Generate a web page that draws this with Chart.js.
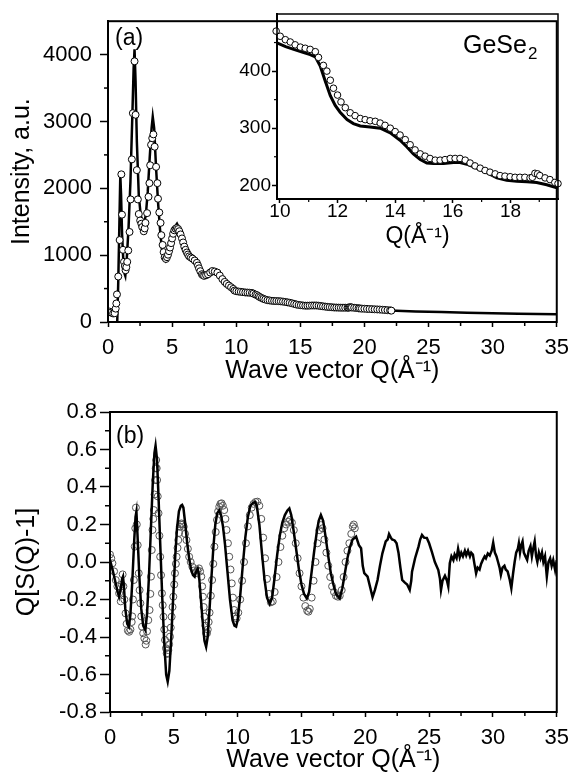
<!DOCTYPE html>
<html><head><meta charset="utf-8">
<script src="https://cdn.jsdelivr.net/npm/chart.js@4"></script>
<style>
html,body{margin:0;padding:0;background:#fff;}
body{width:577px;height:773px;position:relative;overflow:hidden;}
canvas{position:absolute;}
.lbl{position:absolute;font-family:"Liberation Sans",Arial,sans-serif;color:#000;white-space:nowrap;line-height:1;}
.lbl sub{font-size:17px;vertical-align:-6px;line-height:1;margin-left:1px;}
</style></head><body>
<canvas id="cTop" width="577" height="390" style="left:0px;top:0px"></canvas>
<canvas id="cIn" width="377" height="260" style="left:200px;top:0px"></canvas>
<canvas id="cBot" width="577" height="383" style="left:0px;top:390px"></canvas>
<div class="lbl" style="left:115px;top:26px;font-size:23px">(a)</div>
<div class="lbl" style="left:463px;top:32px;font-size:25px">GeSe<sub>2</sub></div>
<div class="lbl" style="left:116px;top:424px;font-size:23px">(b)</div>
<script>
// ---------- panel (a): measured intensity (circles) ----------
const topExpQ = [0.13,0.25,0.4,0.52,0.6,0.65,0.7,0.8,0.91,1.04,1.09,1.17,1.25,1.32,1.37,1.43,1.5,1.58,1.68,1.76,1.86,1.94,2.07,2.15,2.25,2.33,2.4,2.51,2.6,2.67,2.79,2.86,2.92,3.05,3.16,3.23,3.29,3.36,3.45,3.54,3.64,3.75,3.85,3.9,4.0,4.1,4.16,4.26,4.34,4.42,4.52,4.6,4.68,4.76,4.84,4.92,5.0,5.08,5.17,5.27,5.38,5.47,5.56,5.66,5.77,5.86,5.95,6.05,6.15,6.24,6.33,6.46,6.59,6.76,6.93,7.02,7.1,7.2,7.32,7.41,7.5,7.65,7.8,7.97,8.14,8.33,8.53,8.72,8.92,9.1,9.26,9.43,9.6,9.77,9.87,10.01,10.19,10.36,10.53,10.71,10.88,11.05,11.23,11.34,11.51,11.63,11.75,11.86,12.0,12.12,12.27,12.44,12.61,12.79,12.96,13.13,13.31,13.48,13.65,13.83,14.0,14.17,14.35,14.52,14.69,14.87,15.04,15.21,15.39,15.56,15.73,15.91,16.08,16.25,16.43,16.6,16.77,16.95,17.12,17.29,17.47,17.64,17.81,17.99,18.16,18.33,18.5,18.68,18.76,18.85,18.94,19.02,19.2,19.37,19.54,19.65,19.8,20.0,20.2,20.4,20.6,20.8,21.0,21.2,21.4,21.6,21.8,22.0,22.1];
const topExpI = [155,140,128,131,200,277,413,680,1226,2209,1606,1080,900,836,774,820,900,1070,1347,1834,2433,3124,3900,3100,2272,1834,1615,1518,1470,1420,1357,1400,1483,1629,1873,2077,2345,2651,2750,2807,2622,2321,2077,1844,1639,1483,1299,1153,1045,968,943,970,1007,1060,1114,1180,1250,1320,1372,1395,1406,1390,1358,1310,1250,1190,1128,1080,1040,1010,982,965,948,920,885,845,803,760,715,698,690,700,714,740,763,755,739,695,642,600,570,545,520,495,470,461,455,451,446,442,440,438,434,424,410,400,384,370,358,346,336,327,322,317,315,313,312,309,305,300,294,288,280,271,262,255,251,247,244,244,245,247,247,247,244,239,234,230,226,223,220,217,216,215,214,214,214,213,214,221,220,217,213,210,205,203,200,198,196,194,192,190,188,186,183,180,177,174,170];
// ---------- panel (a): calculated intensity (line) ----------
const topCalcQ = [0.72,0.8,0.9,0.96,1.02,1.1,1.2,1.3,1.35,1.45,1.6,1.75,1.9,2.0,2.07,2.15,2.25,2.4,2.55,2.7,2.8,2.95,3.1,3.25,3.4,3.49,3.6,3.75,3.9,4.05,4.2,4.35,4.5,4.65,4.8,5.0,5.2,5.38,5.55,5.75,6.0,6.3,6.6,6.9,7.1,7.35,7.6,7.85,8.15,8.45,8.75,9.0,9.4,9.87,10.2,10.48,10.8,11.05,11.23,11.4,11.57,11.75,11.92,12.09,12.33,12.55,12.79,13.13,13.48,13.83,14.17,14.41,14.63,14.87,15.1,15.33,15.68,16.02,16.25,16.49,16.83,17.18,17.53,17.87,18.22,18.57,18.91,19.26,19.64,20.5,21.5,22.5,24,26,28,30,32,35];
const topCalcI = [0,600,1600,2200,1900,1300,900,720,690,900,1400,2100,3100,3800,4080,3600,2700,1900,1600,1480,1460,1600,1950,2450,2900,3070,2900,2300,1800,1400,1100,960,910,950,1080,1270,1420,1470,1400,1260,1110,990,950,880,800,700,670,710,765,745,680,620,540,450,443,438,433,429,425,409,383,357,340,328,315,308,304,302,300,292,279,267,255,245,239,238,238,240,240,237,230,222,213,209,207,206,205,201,195,188,178,168,158,148,140,132,125,117];
// ---------- panel (b): Q[S(Q)-1] experiment (circles) ----------
const botExpQ = [0.0,0.1,0.19,0.32,0.45,0.58,0.71,0.84,0.92,0.99,1.05,1.12,1.22,1.3,1.4,1.5,1.6,1.7,1.74,1.8,1.87,1.94,1.98,2.03,2.1,2.17,2.25,2.32,2.38,2.45,2.51,2.6,2.69,2.79,2.85,2.9,3.0,3.1,3.16,3.21,3.27,3.33,3.39,3.44,3.49,3.54,3.58,3.62,3.66,3.69,3.74,3.8,3.87,3.93,4.0,4.07,4.13,4.19,4.25,4.31,4.38,4.44,4.5,4.57,4.63,4.7,4.76,4.83,4.9,4.96,5.03,5.09,5.16,5.22,5.29,5.35,5.41,5.47,5.54,5.6,5.7,5.78,5.88,5.99,6.1,6.2,6.32,6.45,6.58,6.71,6.84,6.97,7.06,7.15,7.22,7.28,7.34,7.4,7.47,7.53,7.6,7.66,7.73,7.8,7.9,8.0,8.09,8.18,8.28,8.38,8.47,8.56,8.65,8.74,8.84,8.95,9.04,9.13,9.24,9.34,9.44,9.54,9.63,9.72,9.82,9.92,10.05,10.2,10.35,10.5,10.65,10.8,10.95,11.1,11.25,11.4,11.55,11.7,11.85,12.0,12.15,12.3,12.45,12.6,12.75,12.9,13.05,13.2,13.35,13.5,13.65,13.8,13.95,14.1,14.25,14.4,14.55,14.7,14.85,15.0,15.15,15.3,15.45,15.55,15.65,15.8,15.95,16.1,16.25,16.4,16.52,16.65,16.8,16.95,17.1,17.25,17.4,17.55,17.7,17.85,18.0,18.15,18.3,18.45,18.6,18.75,18.9,19.02,19.1,19.18];
const botExpV = [0.04,0.02,-0.007,-0.05,-0.096,-0.13,-0.167,-0.21,-0.12,-0.066,-0.13,-0.2,-0.274,-0.33,-0.365,-0.372,-0.36,-0.32,-0.29,-0.2,-0.096,0.082,0.18,0.29,0.2,0.09,-0.06,-0.15,-0.22,-0.29,-0.345,-0.38,-0.407,-0.44,-0.42,-0.37,-0.31,-0.256,-0.17,-0.078,0.064,0.171,0.23,0.277,0.36,0.437,0.5,0.544,0.5,0.437,0.35,0.26,0.14,0.028,-0.07,-0.167,-0.23,-0.292,-0.36,-0.416,-0.46,-0.487,-0.49,-0.47,-0.44,-0.398,-0.35,-0.292,-0.24,-0.185,-0.12,-0.06,-0.01,0.028,0.075,0.117,0.155,0.188,0.2,0.206,0.2,0.188,0.15,0.117,0.07,0.028,0.0,-0.025,-0.045,-0.06,-0.045,-0.034,-0.05,-0.078,-0.13,-0.185,-0.24,-0.292,-0.34,-0.38,-0.38,-0.36,-0.32,-0.27,-0.18,-0.096,-0.01,0.082,0.16,0.224,0.27,0.295,0.31,0.313,0.3,0.277,0.23,0.171,0.1,0.028,-0.04,-0.114,-0.19,-0.256,-0.29,-0.3,-0.27,-0.2,-0.1,0.0,0.1,0.19,0.25,0.29,0.31,0.32,0.322,0.3,0.23,0.13,0.02,-0.09,-0.17,-0.215,-0.21,-0.16,-0.08,0.0,0.08,0.14,0.18,0.2,0.215,0.224,0.21,0.17,0.1,0.02,-0.06,-0.13,-0.19,-0.235,-0.26,-0.265,-0.25,-0.19,-0.1,0.0,0.1,0.17,0.197,0.18,0.12,0.05,-0.02,-0.08,-0.13,-0.16,-0.18,-0.185,-0.18,-0.15,-0.08,0.0,0.06,0.1,0.15,0.19,0.2,0.18];
// ---------- panel (b): model (line) ----------
const botCalcQ = [0.0,0.2,0.4,0.6,0.71,0.85,0.95,1.02,1.1,1.2,1.35,1.48,1.6,1.75,1.9,2.0,2.07,2.15,2.3,2.45,2.6,2.77,2.9,3.05,3.2,3.35,3.48,3.57,3.68,3.8,3.95,4.1,4.25,4.4,4.52,4.65,4.8,4.95,5.1,5.25,5.4,5.55,5.65,5.75,5.9,6.05,6.2,6.35,6.5,6.63,6.75,6.87,6.97,7.1,7.25,7.4,7.53,7.65,7.8,7.95,8.1,8.25,8.4,8.55,8.7,8.85,9.0,9.2,9.4,9.6,9.75,9.88,10.0,10.2,10.4,10.6,10.8,11.0,11.2,11.37,11.5,11.7,11.9,12.1,12.3,12.51,12.7,12.9,13.1,13.3,13.5,13.7,13.9,14.05,14.2,14.4,14.6,14.8,15.0,15.2,15.42,15.6,15.8,16.0,16.2,16.35,16.52,16.7,16.9,17.1,17.3,17.5,17.7,17.99,18.2,18.4,18.6,18.8,19.0,19.28,19.5,19.67,19.8,19.92,20.18,20.4,20.57,20.75,20.96,21.15,21.34,21.6,21.75,21.86,22.0,22.1,22.3,22.45,22.6,22.75,22.89,23.1,23.28,23.48,23.6,23.66,23.9,24.17,24.3,24.44,24.6,24.82,25.0,25.21,25.45,25.72,25.85,25.93,26.05,26.24,26.4,26.5,26.62,26.75,26.9,27.0,27.15,27.27,27.4,27.52,27.65,27.8,27.91,28.05,28.2,28.3,28.43,28.55,28.68,28.8,28.95,29.07,29.2,29.35,29.45,29.6,29.75,29.9,30.02,30.15,30.28,30.4,30.52,30.62,30.75,30.9,31.0,31.15,31.3,31.44,31.58,31.7,31.82,31.95,32.03,32.12,32.22,32.32,32.42,32.55,32.68,32.8,32.94,33.05,33.15,33.27,33.38,33.48,33.6,33.72,33.84,33.95,34.08,34.22,34.35,34.48,34.6,34.72,34.87,35.0];
const botCalcV = [0.01,-0.04,-0.1,-0.16,-0.185,-0.14,-0.09,-0.078,-0.14,-0.25,-0.33,-0.345,-0.28,-0.1,0.12,0.24,0.268,0.15,-0.08,-0.25,-0.34,-0.363,-0.28,-0.08,0.17,0.42,0.58,0.62,0.55,0.35,0.07,-0.2,-0.43,-0.6,-0.638,-0.58,-0.4,-0.19,0.02,0.18,0.27,0.3,0.305,0.29,0.2,0.1,0.02,-0.04,-0.07,-0.078,-0.05,-0.035,-0.07,-0.18,-0.31,-0.42,-0.452,-0.4,-0.25,-0.08,0.08,0.2,0.26,0.275,0.25,0.19,0.1,-0.05,-0.2,-0.31,-0.34,-0.345,-0.31,-0.18,-0.02,0.13,0.24,0.3,0.315,0.32,0.3,0.2,0.05,-0.09,-0.19,-0.224,-0.19,-0.08,0.04,0.14,0.21,0.25,0.275,0.286,0.25,0.16,0.06,-0.04,-0.12,-0.17,-0.194,-0.16,-0.05,0.06,0.16,0.22,0.251,0.22,0.13,0.03,-0.06,-0.12,-0.17,-0.194,-0.14,-0.06,0.02,0.08,0.12,0.135,0.09,0.073,-0.02,-0.06,-0.078,-0.14,-0.188,-0.15,-0.096,-0.02,0.046,0.11,0.12,0.149,0.13,0.12,0.115,0.1,0.05,-0.03,-0.096,-0.11,-0.12,-0.149,-0.1,-0.052,0.02,0.082,0.12,0.144,0.13,0.128,0.1,0.055,0.0,-0.043,-0.09,-0.149,-0.1,-0.074,-0.1,-0.13,-0.007,0.03,0.01,0.04,0.02,0.07,0.025,0.05,0.03,0.06,0.035,0.06,0.03,0.05,0.04,-0.01,-0.06,-0.03,-0.04,-0.01,0.01,0.03,0.02,0.045,0.035,0.06,0.103,0.05,0.03,0.0,-0.03,-0.069,-0.03,-0.02,-0.04,-0.05,-0.09,-0.14,-0.06,0.0,0.05,0.07,0.1,0.05,0.09,0.11,0.05,0.03,0.011,0.06,0.085,0.03,0.07,0.11,0.03,0.0,0.05,0.02,0.05,0.0,0.03,-0.078,0.0,0.02,-0.02,0.01,-0.043,0.009];
// ---------- tick values ----------
const qMajor = [0,5,10,15,20,25,30,35];
const qMinor = [2.5,7.5,12.5,17.5,22.5,27.5,32.5];
const intMajor = [0,1000,2000,3000,4000];
const intMinor = [500,1500,2500,3500];
const insetQMajor = [10,12,14,16,18];
const insetQMinor = [11,13,15,17,19];
const insetIMajor = [200,300,400];
const insetIMinor = [250,350,450];
const sqMajor = [-0.8,-0.6,-0.4,-0.2,0.0,0.2,0.4,0.6,0.8];
const sqMinor = [-0.7,-0.5,-0.3,-0.1,0.1,0.3,0.5,0.7];

const FAM = "'Liberation Sans', Arial, sans-serif";
const pts = (xs, ys) => xs.map((x, i) => ({x: x, y: ys[i]}));

const frameAndMinor = {
  id: 'frameAndMinor',
  afterDraw(chart, args, o) {
    const ctx = chart.ctx, a = chart.chartArea;
    ctx.save();
    ctx.strokeStyle = '#000';
    ctx.lineWidth = o.minorWidth;
    const sx = chart.scales.x, sy = chart.scales.y;
    o.xMinor.forEach(v => { const p = sx.getPixelForValue(v); ctx.beginPath(); ctx.moveTo(p, a.bottom); ctx.lineTo(p, a.bottom + o.xLen); ctx.stroke(); });
    o.yMinor.forEach(v => { const p = sy.getPixelForValue(v); ctx.beginPath(); ctx.moveTo(a.left, p); ctx.lineTo(a.left - o.yLen, p); ctx.stroke(); });
    ctx.lineWidth = o.frameWidth;
    ctx.strokeRect(a.left, a.top, a.right - a.left, a.bottom - a.top);
    ctx.restore();
  }
};

function scaleX(min, max, major, fmt, tf, tickLen, pad, title, tsize, tpad, h) {
  return {
    type: 'linear', min: min, max: max, position: 'bottom',
    afterBuildTicks: s => { s.ticks = major.map(v => ({value: v})); },
    afterFit: s => { s.height = h; },
    ticks: {autoSkip: false, maxRotation: 0, minRotation: 0, padding: pad, color: '#000', font: {family: FAM, size: tf}, callback: v => fmt(v)},
    grid: {drawOnChartArea: false, drawTicks: true, tickLength: tickLen, tickWidth: 1.5, tickColor: '#000'},
    border: {display: true, color: '#000', width: 2},
    title: {display: !!title, text: title, color: '#000', font: {family: FAM, size: tsize, lineHeight: 1}, padding: {top: 0, bottom: tpad}}
  };
}
function scaleY(min, max, major, fmt, tf, tickLen, pad, title, tsize, tpad, w) {
  return {
    type: 'linear', min: min, max: max, position: 'left',
    afterBuildTicks: s => { s.ticks = major.map(v => ({value: v})); },
    afterFit: s => { s.width = w; },
    ticks: {autoSkip: false, padding: pad, color: '#000', font: {family: FAM, size: tf}, callback: v => fmt(v)},
    grid: {drawOnChartArea: false, drawTicks: true, tickLength: tickLen, tickWidth: 1.5, tickColor: '#000'},
    border: {display: true, color: '#000', width: 2},
    title: {display: !!title, text: title, color: '#000', font: {family: FAM, size: tsize, lineHeight: 1}, padding: {top: tpad, bottom: 0}}
  };
}
const baseOpts = {responsive: false, animation: false, devicePixelRatio: 1,
  plugins: {legend: {display: false}, tooltip: {enabled: false}}};

// ----- panel (a) main -----
new Chart(document.getElementById('cTop'), {
  type: 'scatter',
  data: {datasets: [
    {data: pts(topExpQ, topExpI), showLine: false, pointRadius: 3.5, pointBorderWidth: 1, pointBorderColor: '#000', pointBackgroundColor: '#fff'},
    {data: pts(topCalcQ, topCalcI), showLine: true, pointRadius: 0, borderWidth: 2.5, borderColor: '#000', tension: 0}
  ]},
  options: Object.assign({}, baseOpts, {
    layout: {padding: {left: 0, right: 19, top: 14, bottom: 0}},
    scales: {
      x: scaleX(0, 35, qMajor, v => String(v), 22, 5, 8, 'Wave vector Q(Å⁻¹)', 25, 6.5, 68),
      y: scaleY(0, 4500, intMajor, v => String(v), 22, 8, 8, 'Intensity, a.u.', 25, 9.5, 108)
    },
    plugins: Object.assign({}, baseOpts.plugins, {frameAndMinor: {xMinor: qMinor, yMinor: intMinor, xLen: 4, yLen: 4, minorWidth: 1.5, frameWidth: 2}})
  }),
  plugins: [frameAndMinor]
});

// ----- panel (a) inset -----
const inQ0 = 9.85, inQ1 = 19.7;
const inExp = pts(topExpQ, topExpI).filter(p => p.x >= inQ0 && p.x <= inQ1);
const inCalc = pts(topCalcQ, topCalcI).filter(p => p.x >= inQ0 && p.x <= inQ1);
new Chart(document.getElementById('cIn'), {
  type: 'scatter',
  data: {datasets: [
    {data: inExp, showLine: false, pointRadius: 3.3, pointBorderWidth: 1, pointBorderColor: '#000', pointBackgroundColor: '#fff', clip: 5},
    {data: inCalc, showLine: true, pointRadius: 0, borderWidth: 3, borderColor: '#000', tension: 0}
  ]},
  options: Object.assign({}, baseOpts, {
    layout: {padding: {left: 0, right: 19, top: 14, bottom: 0}},
    scales: {
      x: scaleX(9.9, 19.65, insetQMajor, v => String(v), 19, 4, -3, 'Q(Å⁻¹)', 23, 12, 61),
      y: scaleY(176, 500, insetIMajor, v => String(v), 19, 5, 1, '', 19, 0, 77)
    },
    plugins: Object.assign({}, baseOpts.plugins, {frameAndMinor: {xMinor: insetQMinor, yMinor: insetIMinor, xLen: 3, yLen: 3, minorWidth: 1.2, frameWidth: 1.5}})
  }),
  plugins: [frameAndMinor]
});

// ----- panel (b) -----
new Chart(document.getElementById('cBot'), {
  type: 'scatter',
  data: {datasets: [
    {data: pts(botCalcQ, botCalcV), showLine: true, pointRadius: 0, borderWidth: 2.5, borderColor: '#000', tension: 0},
    {data: pts(botExpQ, botExpV), showLine: false, pointRadius: 3.5, pointBorderWidth: 1, pointBorderColor: '#555', pointBackgroundColor: 'rgba(255,255,255,0)'}
  ]},
  options: Object.assign({}, baseOpts, {
    layout: {padding: {left: 0, right: 14, top: 22, bottom: 0}},
    scales: {
      x: scaleX(0, 35, qMajor, v => String(v), 22, 5, 8, 'Wave vector Q(Å⁻¹)', 25, 0.5, 61),
      y: scaleY(-0.8, 0.8, sqMajor, v => v.toFixed(1), 22, 10, 3, 'Q[S(Q)-1]', 25, 15, 110)
    },
    plugins: Object.assign({}, baseOpts.plugins, {frameAndMinor: {xMinor: qMinor, yMinor: sqMinor, xLen: 4, yLen: 5, minorWidth: 1.5, frameWidth: 2}})
  }),
  plugins: [frameAndMinor]
});
</script>
</body></html>
